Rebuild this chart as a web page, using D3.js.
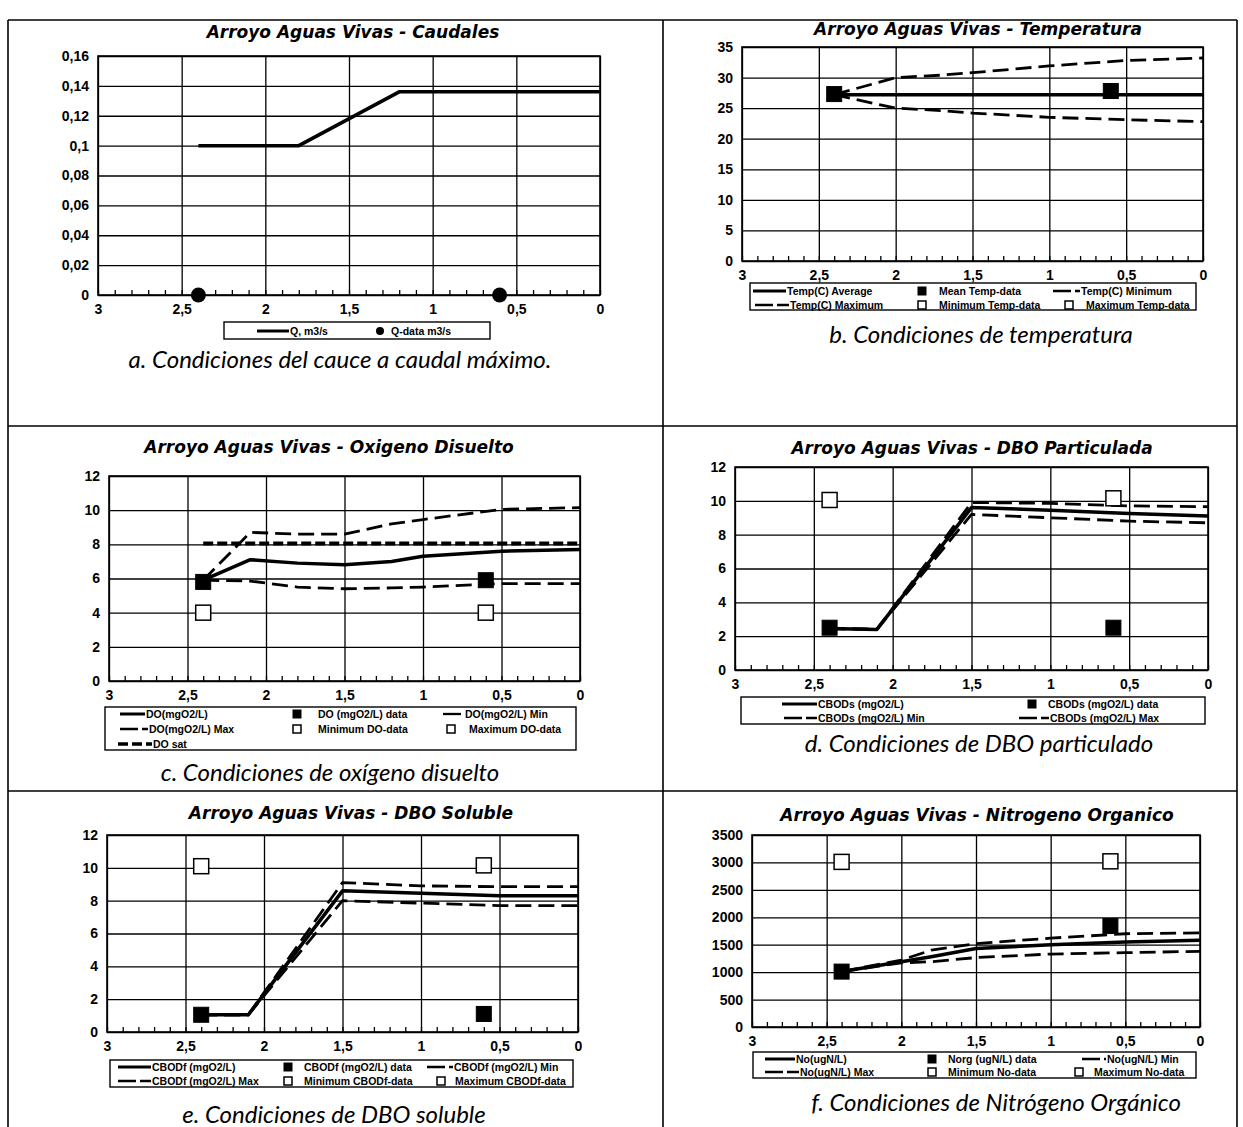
<!DOCTYPE html>
<html>
<head>
<meta charset="utf-8">
<script src="https://cdn.jsdelivr.net/npm/d3@7"></script>
<style>
  body { margin: 0; background: #fff; }
  svg text { fill: #000; }
  .title { font-family: "DejaVu Sans", sans-serif; font-weight: bold; font-style: italic; font-size: 17px; }
  .tick text { font-family: "Liberation Sans", Arial, sans-serif; font-weight: bold; font-size: 14px; }
  .caption { font-family: Lato, "Open Sans", sans-serif; font-style: italic; font-size: 24px; }
  .leg { font-family: "Liberation Sans", Arial, sans-serif; font-weight: bold; font-size: 10.5px; }
</style>
</head>
<body>
<svg id="page" width="1243" height="1127"></svg>
<script>
// distance along the stream (km), axis runs from 3 down to 0
const distTicks = [3, 2.5, 2, 1.5, 1, 0.5, 0];
const sampleDist = [2.4, 0.6];   // the two sampling stations

// a. Caudales
const qTicks = [0, 0.02, 0.04, 0.06, 0.08, 0.1, 0.12, 0.14, 0.16];
const qDist = [2.4, 1.8, 1.2, 0];
const qModel = [0.1, 0.1, 0.136, 0.136];
const qData = [0, 0];

// b. Temperatura
const tempTicks = [0, 5, 10, 15, 20, 25, 30, 35];
const tempDist = [2.4, 2.0, 1.7, 1.5, 1.0, 0.5, 0];
const tempAvg = [27.2, 27.2, 27.2, 27.2, 27.2, 27.2, 27.2];
const tempMin = [27.2, 25.0, 24.6, 24.2, 23.5, 23.1, 22.8];
const tempMax = [27.2, 30.0, 30.4, 30.8, 31.9, 32.8, 33.2];
const tempMean = [27.3, 27.8];

// c. Oxigeno disuelto
const doTicks = [0, 2, 4, 6, 8, 10, 12];
const doDist = [2.4, 2.1, 1.8, 1.5, 1.2, 1.0, 0.5, 0];
const doModel = [5.9, 7.1, 6.9, 6.8, 7.0, 7.3, 7.6, 7.7];
const doMax = [5.9, 8.7, 8.6, 8.6, 9.2, 9.45, 10.05, 10.15];
const doMin = [5.9, 5.85, 5.5, 5.4, 5.45, 5.5, 5.7, 5.7];
const doSat = [8.05, 8.05, 8.05, 8.05, 8.05, 8.05, 8.05, 8.05];
const doData = [5.8, 5.9];
const doMinData = [4.0, 4.0];

// d. DBO particulada
const cbodsTicks = [0, 2, 4, 6, 8, 10, 12];
const cbodsDist = [2.4, 2.1, 1.5, 1.0, 0.5, 0];
const cbodsModel = [2.45, 2.4, 9.6, 9.45, 9.25, 9.1];
const cbodsMax = [2.45, 2.4, 9.9, 9.85, 9.7, 9.65];
const cbodsMin = [2.45, 2.4, 9.2, 9.0, 8.8, 8.7];
const cbodsData = [2.5, 2.5];
const cbodsBound = [10.05, 10.15];

// e. DBO soluble
const cbodfTicks = [0, 2, 4, 6, 8, 10, 12];
const cbodfDist = [2.4, 2.1, 1.5, 1.0, 0.5, 0];
const cbodfModel = [1.05, 1.05, 8.6, 8.45, 8.3, 8.3];
const cbodfMax = [1.05, 1.05, 9.1, 8.9, 8.85, 8.85];
const cbodfMin = [1.05, 1.05, 8.0, 7.85, 7.7, 7.7];
const cbodfData = [1.05, 1.1];
const cbodfBound = [10.1, 10.15];

// f. Nitrogeno organico
const noTicks = [0, 500, 1000, 1500, 2000, 2500, 3000, 3500];
const noDist = [2.4, 2.0, 1.8, 1.5, 1.0, 0.5, 0];
const noModel = [1010, 1190, 1280, 1430, 1500, 1550, 1580];
const noMax = [1010, 1220, 1400, 1520, 1620, 1700, 1715];
const noMin = [1010, 1170, 1190, 1265, 1330, 1355, 1380];
const noData = [1010, 1840];
const noBound = [3010, 3020];

const svg = d3.select("#page");
const fmt = d => String(+d.toFixed(2)).replace(".", ",");

// table frame of the document
const border = svg.append("g").attr("stroke", "#000").attr("stroke-width", 1.6);
[[8, 20, 8, 1127], [663, 20, 663, 1127], [1237, 20, 1237, 1127],
 [8, 20, 1237, 20], [8, 426, 1237, 426], [8, 791, 1237, 791]]
  .forEach(l => border.append("line").attr("x1", l[0]).attr("y1", l[1]).attr("x2", l[2]).attr("y2", l[3]));

const styles = {
  solid: { w: 3.5, dash: null },
  dash: { w: 2.8, dash: "16,7" },
  sat: { w: 4.2, dash: "10,4" }
};

const panels = [
  {
    title: "Arroyo Aguas Vivas - Caudales", tx: 353, ty: 38,
    caption: "a. Condiciones del cauce a caudal máximo.", cx: 340, cy: 368,
    x0: 98, x1: 600, yTop: 56, yBot: 295, yMax: 0.16, ticks: qTicks,
    lines: [{ d: qDist, v: qModel, s: "solid" }],
    marks: [{ d: sampleDist, v: qData, s: "dot" }],
    box: [224, 322, 490, 339], rows: [331],
    legend: [
      { s: "solid", label: "Q, m3/s", x: 257, tx: 290, r: 0 },
      { s: "dot", label: "Q-data m3/s", x: 380, tx: 391, r: 0 }
    ]
  },
  {
    title: "Arroyo Aguas Vivas - Temperatura", tx: 978, ty: 35,
    caption: "b.  Condiciones de temperatura", cx: 981, cy: 343,
    x0: 742, x1: 1203, yTop: 47, yBot: 261, yMax: 35, ticks: tempTicks,
    lines: [
      { d: tempDist, v: tempAvg, s: "solid" },
      { d: tempDist, v: tempMin, s: "dash" },
      { d: tempDist, v: tempMax, s: "dash" }
    ],
    marks: [{ d: sampleDist, v: tempMean, s: "fill" }],
    box: [750, 283, 1196, 310], rows: [291, 305],
    legend: [
      { s: "solid", label: "Temp(C) Average", x: 753, tx: 787, r: 0 },
      { s: "fill", label: "Mean Temp-data", x: 922, tx: 939, r: 0 },
      { s: "dash", label: "Temp(C) Minimum", x: 1053, tx: 1081, r: 0 },
      { s: "dash", label: "Temp(C) Maximum", x: 755, tx: 790, r: 1 },
      { s: "open", label: "Minimum Temp-data", x: 922, tx: 939, r: 1 },
      { s: "open", label: "Maximum Temp-data", x: 1069, tx: 1086, r: 1 }
    ]
  },
  {
    title: "Arroyo Aguas Vivas - Oxigeno Disuelto", tx: 329, ty: 453,
    caption: "c. Condiciones de oxígeno disuelto", cx: 330, cy: 781,
    x0: 109, x1: 580, yTop: 476, yBot: 681, yMax: 12, ticks: doTicks,
    lines: [
      { d: doDist, v: doSat, s: "sat" },
      { d: doDist, v: doModel, s: "solid" },
      { d: doDist, v: doMax, s: "dash" },
      { d: doDist, v: doMin, s: "dash" }
    ],
    marks: [
      { d: sampleDist, v: doMinData, s: "open" },
      { d: sampleDist, v: doData, s: "fill" }
    ],
    box: [105, 707, 576, 750], rows: [714, 729, 744],
    legend: [
      { s: "solid", label: "DO(mgO2/L)", x: 120, tx: 146, r: 0 },
      { s: "fill", label: "DO (mgO2/L) data", x: 297, tx: 318, r: 0 },
      { s: "dash", label: "DO(mgO2/L) Min", x: 443, tx: 465, r: 0 },
      { s: "dash", label: "DO(mgO2/L) Max", x: 120, tx: 149, r: 1 },
      { s: "open", label: "Minimum DO-data", x: 297, tx: 318, r: 1 },
      { s: "open", label: "Maximum DO-data", x: 451, tx: 469, r: 1 },
      { s: "sat", label: "DO sat", x: 118, tx: 153, r: 2 }
    ]
  },
  {
    title: "Arroyo Aguas Vivas - DBO Particulada", tx: 972, ty: 454,
    caption: "d. Condiciones de DBO particulado", cx: 979, cy: 752,
    x0: 735, x1: 1208, yTop: 467, yBot: 670, yMax: 12, ticks: cbodsTicks,
    lines: [
      { d: cbodsDist, v: cbodsModel, s: "solid" },
      { d: cbodsDist, v: cbodsMax, s: "dash" },
      { d: cbodsDist, v: cbodsMin, s: "dash" }
    ],
    marks: [
      { d: sampleDist, v: cbodsBound, s: "open" },
      { d: sampleDist, v: cbodsData, s: "fill" }
    ],
    box: [741, 697, 1205, 724], rows: [704, 718],
    legend: [
      { s: "solid", label: "CBODs (mgO2/L)", x: 782, tx: 818, r: 0 },
      { s: "fill", label: "CBODs (mgO2/L) data", x: 1032, tx: 1048, r: 0 },
      { s: "dash", label: "CBODs (mgO2/L) Min", x: 784, tx: 818, r: 1 },
      { s: "dash", label: "CBODs (mgO2/L) Max", x: 1019, tx: 1050, r: 1 }
    ]
  },
  {
    title: "Arroyo Aguas Vivas - DBO Soluble", tx: 351, ty: 819,
    caption: "e. Condiciones de DBO soluble", cx: 334, cy: 1123,
    x0: 107, x1: 578, yTop: 835, yBot: 1032, yMax: 12, ticks: cbodfTicks,
    lines: [
      { d: cbodfDist, v: cbodfModel, s: "solid" },
      { d: cbodfDist, v: cbodfMax, s: "dash" },
      { d: cbodfDist, v: cbodfMin, s: "dash" }
    ],
    marks: [
      { d: sampleDist, v: cbodfBound, s: "open" },
      { d: sampleDist, v: cbodfData, s: "fill" }
    ],
    box: [110, 1060, 573, 1087], rows: [1067, 1081],
    legend: [
      { s: "solid", label: "CBODf (mgO2/L)", x: 118, tx: 152, r: 0 },
      { s: "fill", label: "CBODf (mgO2/L) data", x: 288, tx: 304, r: 0 },
      { s: "dash", label: "CBODf (mgO2/L) Min", x: 427, tx: 454, r: 0 },
      { s: "dash", label: "CBODf (mgO2/L) Max", x: 118, tx: 152, r: 1 },
      { s: "open", label: "Minimum CBODf-data", x: 288, tx: 304, r: 1 },
      { s: "open", label: "Maximum CBODf-data", x: 441, tx: 455, r: 1 }
    ]
  },
  {
    title: "Arroyo Aguas Vivas - Nitrogeno Organico", tx: 977, ty: 821,
    caption: "f. Condiciones de Nitrógeno Orgánico", cx: 996, cy: 1111,
    x0: 752, x1: 1200, yTop: 835, yBot: 1027, yMax: 3500, ticks: noTicks,
    lines: [
      { d: noDist, v: noModel, s: "solid" },
      { d: noDist, v: noMax, s: "dash" },
      { d: noDist, v: noMin, s: "dash" }
    ],
    marks: [
      { d: sampleDist, v: noBound, s: "open" },
      { d: sampleDist, v: noData, s: "fill" }
    ],
    box: [753, 1052, 1196, 1078], rows: [1059, 1072],
    legend: [
      { s: "solid", label: "No(ugN/L)", x: 765, tx: 796, r: 0 },
      { s: "fill", label: "Norg (ugN/L) data", x: 932, tx: 948, r: 0 },
      { s: "dash", label: "No(ugN/L) Min", x: 1082, tx: 1107, r: 0 },
      { s: "dash", label: "No(ugN/L) Max", x: 765, tx: 800, r: 1 },
      { s: "open", label: "Minimum No-data", x: 932, tx: 948, r: 1 },
      { s: "open", label: "Maximum No-data", x: 1079, tx: 1094, r: 1 }
    ]
  }
];

function drawMark(g, s, cx, cy, size) {
  if (s === "dot") {
    g.append("circle").attr("cx", cx).attr("cy", cy).attr("r", size / 2).attr("fill", "#000");
  } else {
    g.append("rect")
      .attr("x", cx - size / 2).attr("y", cy - size / 2)
      .attr("width", size).attr("height", size)
      .attr("fill", s === "fill" ? "#000" : "#fff")
      .attr("stroke", "#000").attr("stroke-width", s === "fill" ? 1 : 1.5);
  }
}

panels.forEach(p => {
  const g = svg.append("g");
  const x = d3.scaleLinear().domain([3, 0]).range([p.x0, p.x1]);
  const y = d3.scaleLinear().domain([0, p.yMax]).range([p.yBot, p.yTop]);

  // title
  g.append("text").attr("class", "title").attr("x", p.tx).attr("y", p.ty)
    .attr("text-anchor", "middle").text(p.title);

  // grid + axes
  const yAxis = g.append("g").attr("transform", `translate(${p.x0},0)`)
    .call(d3.axisLeft(y).tickValues(p.ticks).tickSize(-(p.x1 - p.x0)).tickPadding(9).tickFormat(fmt));
  const xAxis = g.append("g").attr("transform", `translate(0,${p.yBot})`)
    .call(d3.axisBottom(x).tickValues(distTicks).tickSize(-(p.yBot - p.yTop)).tickPadding(9).tickFormat(fmt));
  // minor ticks every 0.1 km along the bottom
  const minor = g.append("g").attr("transform", `translate(0,${p.yBot})`)
    .call(d3.axisBottom(x).tickValues(d3.range(0, 3.01, 0.1)).tickSize(-5).tickFormat(""));
  [yAxis, xAxis, minor].forEach(a => {
    a.select(".domain").remove();
    a.selectAll(".tick line").attr("stroke", "#000").attr("stroke-width", 1.3);
  });
  g.append("rect").attr("x", p.x0).attr("y", p.yTop)
    .attr("width", p.x1 - p.x0).attr("height", p.yBot - p.yTop)
    .attr("fill", "none").attr("stroke", "#000").attr("stroke-width", 1.6);

  // model lines
  p.lines.forEach(s => {
    const pts = s.d.map((d, i) => [x(d), y(s.v[i])]);
    g.append("path").attr("d", d3.line()(pts))
      .attr("fill", "none").attr("stroke", "#000")
      .attr("stroke-width", styles[s.s].w)
      .attr("stroke-dasharray", styles[s.s].dash)
      .attr("stroke-linejoin", "round");
  });

  // field data
  p.marks.forEach(m => {
    m.d.forEach((d, i) => drawMark(g, m.s, x(d), y(m.v[i]), 15));
  });

  // legend
  const [bx0, by0, bx1, by1] = p.box;
  g.append("rect").attr("x", bx0).attr("y", by0).attr("width", bx1 - bx0).attr("height", by1 - by0)
    .attr("fill", "#fff").attr("stroke", "#000").attr("stroke-width", 1.4);
  p.legend.forEach(it => {
    const ry = p.rows[it.r];
    if (styles[it.s]) {
      g.append("line").attr("x1", it.x).attr("x2", it.tx - 1).attr("y1", ry).attr("y2", ry)
        .attr("stroke", "#000").attr("stroke-width", styles[it.s].w - 0.5)
        .attr("stroke-dasharray", it.s === "dash" ? "18,4" : styles[it.s].dash);
    } else {
      drawMark(g, it.s, it.x, ry, 8);
    }
    g.append("text").attr("class", "leg").attr("x", it.tx).attr("y", ry).attr("dy", "0.35em").text(it.label);
  });

  // caption
  g.append("text").attr("class", "caption").attr("x", p.cx).attr("y", p.cy)
    .attr("text-anchor", "middle").text(p.caption);
});
</script>
</body>
</html>
